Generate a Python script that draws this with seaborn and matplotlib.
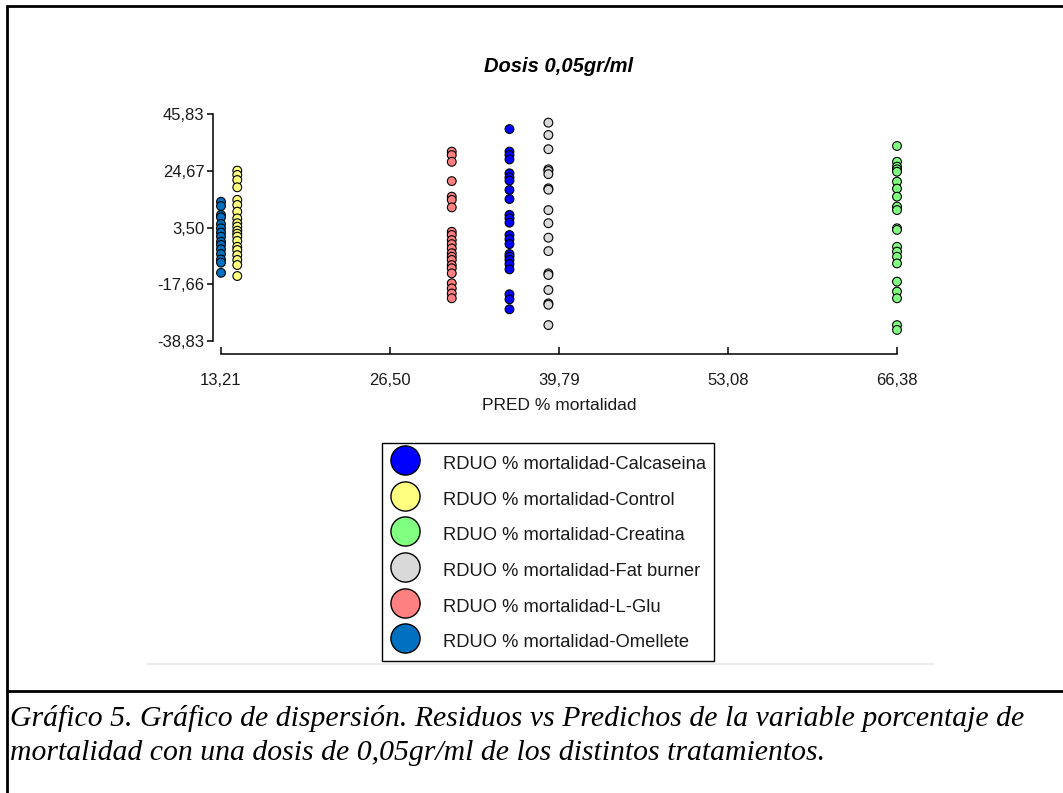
import matplotlib
matplotlib.use("Agg")
import matplotlib.pyplot as plt
from matplotlib.lines import Line2D
import seaborn as sns
import pandas as pd

# ---------------- data ----------------
groups = ["Calcaseina", "Control", "Creatina", "Fat burner", "L-Glu", "Omellete"]
colors = ["#0000FF", "#FFFF80", "#80FF80", "#D9D9D9", "#FF8080", "#0070C0"]

pred_calcaseina = 35.90
pred_control = 14.49
pred_creatina = 66.38
pred_fatburner = 38.96
pred_lglu = 31.36
pred_omellete = 13.21

res_calcaseina = [40.2, 31.8, 30.5, 28.9, 23.7, 22.2, 21.0, 17.5, 14.1, 8.2, 6.9, 5.3,
                  0.7, -0.9, -2.7, -6.4, -7.4, -8.6, -10.1, -12.1, -21.4, -23.3, -27.0]
res_control = [24.7, 23.1, 21.2, 18.5, 13.8, 11.9, 9.4, 6.9, 5.1, 3.8, 2.3, 1.2, 0.1,
               -1.5, -3.7, -4.9, -6.8, -8.6, -10.5, -14.6]
res_creatina = [33.9, 28.0, 26.2, 25.2, 24.3, 20.6, 18.0, 15.0, 11.3, 10.0, 3.2, 2.6,
                -3.7, -5.5, -7.4, -9.9, -16.7, -20.4, -22.9, -32.9, -34.7]
res_fatburner = [42.6, 38.0, 32.7, 25.2, 24.6, 23.4, 18.1, 17.6, 10.0, 5.1, -0.3, -5.3,
                 -13.6, -14.2, -19.8, -24.8, -25.3, -32.9]
res_lglu = [31.8, 30.5, 28.0, 20.8, 15.0, 13.8, 11.0, 1.9, 0.7, -1.2, -2.7, -4.3, -6.1,
            -7.4, -8.6, -10.5, -11.7, -13.6, -17.3, -19.2, -21.1, -22.9]
res_omellete = [13.1, 11.5, 8.2, 7.3, 4.8, 3.2, 1.6, 0.1, -1.8, -3.0, -4.6, -6.4, -8.4,
                -9.6, -13.4]

x_ticks = [13.21, 26.50, 39.79, 53.08, 66.38]
x_ticklabels = ["13,21", "26,50", "39,79", "53,08", "66,38"]
y_ticks = [-38.83, -17.66, 3.50, 24.67, 45.83]
y_ticklabels = ["-38,83", "-17,66", "3,50", "24,67", "45,83"]

title = "Dosis 0,05gr/ml"
x_label = "PRED % mortalidad"
legend_prefix = "RDUO % mortalidad-"
caption_1 = ("Gráfico 5. Gráfico de dispersión. Residuos vs Predichos de la variable "
             "porcentaje de")
caption_2 = "mortalidad con una dosis de 0,05gr/ml de los distintos tratamientos."

# ---------------- table ----------------
preds = [pred_calcaseina, pred_control, pred_creatina, pred_fatburner, pred_lglu,
         pred_omellete]
resids = [res_calcaseina, res_control, res_creatina, res_fatburner, res_lglu,
          res_omellete]
rows = []
for g, p, r in zip(groups, preds, resids):
    for v in r:
        rows.append({"grupo": g, "pred": p, "res": v})
df = pd.DataFrame(rows)

# ---------------- figure ----------------
sns.set_theme(style="white")
plt.rcParams["font.family"] = ["Liberation Sans", "DejaVu Sans"]

W, H = 1063, 793
fig = plt.figure(figsize=(W / 100, H / 100), dpi=100)
fig.patch.set_facecolor("white")

ax = fig.add_axes([221 / W, 1 - 341 / H, (897 - 221) / W, (341 - 114) / H])
ax.set_facecolor("white")

sns.scatterplot(data=df, x="pred", y="res", hue="grupo", hue_order=groups,
                palette=dict(zip(groups, colors)), s=40, edgecolor="black",
                linewidth=0.8, legend=False, ax=ax, clip_on=False, zorder=3)

ax.set_xlim(13.21, 66.38)
ax.set_ylim(-38.83, 45.83)

for side in ["top", "right"]:
    ax.spines[side].set_visible(False)
ax.spines["left"].set_position(("outward", 6))
ax.spines["bottom"].set_position(("outward", 9))
ax.spines["left"].set_bounds(-38.83, 45.83)
ax.spines["bottom"].set_bounds(13.21, 66.38)
for side in ["left", "bottom"]:
    ax.spines[side].set_color("black")
    ax.spines[side].set_linewidth(1.1)

ax.set_xticks(x_ticks)
ax.set_xticklabels(x_ticklabels)
ax.set_yticks(y_ticks)
ax.set_yticklabels(y_ticklabels)
ax.tick_params(axis="y", direction="out", length=4, width=1.1, color="black",
               labelsize=12, labelcolor="#1a1a1a", pad=2, left=True)
ax.tick_params(axis="x", direction="in", length=5, width=1.1, color="black",
               labelsize=12, labelcolor="#1a1a1a", pad=14, bottom=True)

ax.set_xlabel(x_label, fontsize=12.5, color="#1a1a1a", labelpad=7)
ax.set_ylabel("")
ax.set_title(title, fontsize=14.5, fontweight="bold", fontstyle="italic",
             color="black", pad=30)

# legend
handles = [Line2D([], [], marker="o", ls="", markersize=21, markerfacecolor=c,
                  markeredgecolor="black", markeredgewidth=1.0) for c in colors]
labels = [legend_prefix + g for g in groups]
leg = fig.legend(handles, labels, loc="upper left",
                 bbox_to_anchor=(382 / W, 1 - 443 / H), bbox_transform=fig.transFigure,
                 fontsize=13.2, frameon=True, fancybox=False, shadow=False,
                 handleheight=1.6, labelspacing=0.66, borderpad=0.45,
                 handlelength=1.62, handletextpad=1.27, borderaxespad=0)
leg.get_frame().set_edgecolor("black")
leg.get_frame().set_linewidth(1.0)
leg.get_frame().set_alpha(1)
for t in leg.get_texts():
    t.set_color("#1a1a1a")

# faint line under the legend
fig.add_artist(Line2D([148 / W, 933 / W], [1 - 664 / H] * 2, color="#EBEBEB", lw=1.5))

# outer frame lines
fw = 2.0
fig.add_artist(Line2D([7 / W, 1.0], [1 - 6 / H] * 2, color="black", lw=fw))
fig.add_artist(Line2D([7 / W] * 2, [0.0, 1 - 6 / H], color="black", lw=fw))
fig.add_artist(Line2D([7 / W, 1.0], [1 - 691 / H] * 2, color="black", lw=fw))

# caption
cap_kw = dict(family=["Liberation Serif", "DejaVu Serif"], style="italic",
              color="black", ha="left", va="baseline")
c1 = fig.text(10 / W, 1 - 726 / H, caption_1, fontsize=18, **cap_kw)
c2 = fig.text(10 / W, 1 - 760 / H, caption_2, fontsize=18, **cap_kw)
fig.canvas.draw()
w1 = c1.get_window_extent().width
fs = 18 * (1012 / w1)
c1.set_fontsize(fs)
c2.set_fontsize(fs)

fig.savefig("out.png", dpi=100, facecolor="white")
